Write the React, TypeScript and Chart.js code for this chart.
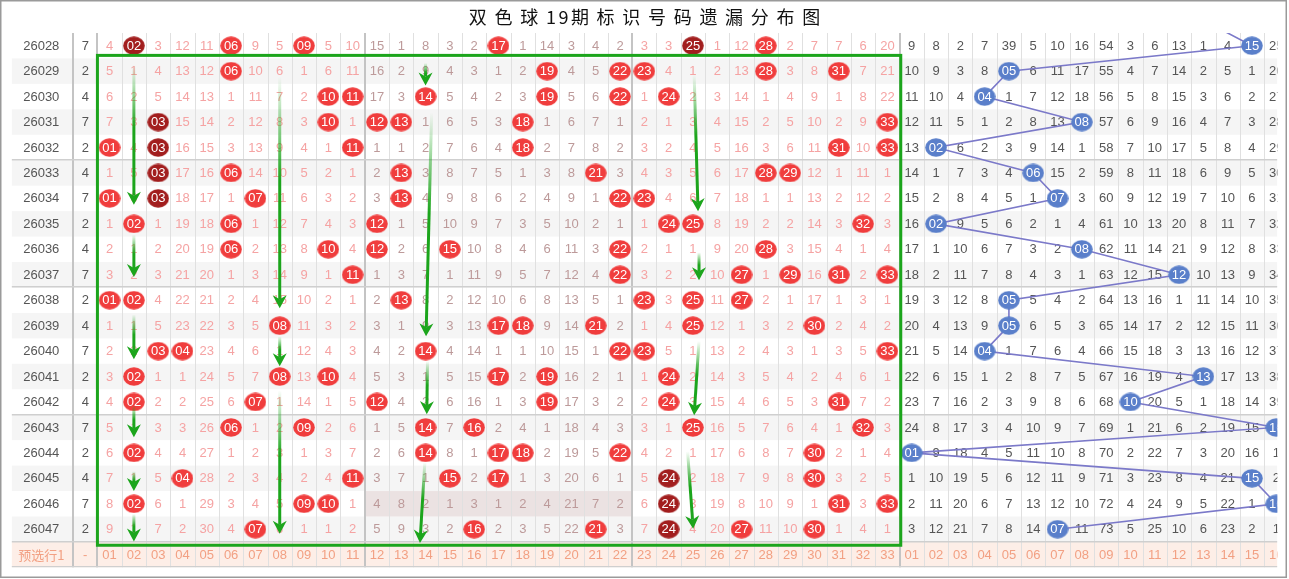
import React, { useEffect, useRef } from 'react';
import { Chart, registerables } from 'chart.js';

Chart.register(...registerables);

// ---------------- data ----------------
const titleText = '双色球19期标识号码遗漏分布图';

const periods = [
  '26028', '26029', '26030', '26031', '26032', '26033', '26034', '26035', '26036', '26037',
  '26038', '26039', '26040', '26041', '26042', '26043', '26044', '26045', '26046', '26047',
];

const tailDigits = [7, 2, 4, 7, 2, 4, 7, 2, 4, 7, 2, 4, 7, 2, 4, 7, 2, 4, 7, 2];

const previewRowLabel = '预选行1';
const previewTailLabel = '-';

const redLabels = [
  '01', '02', '03', '04', '05', '06', '07', '08', '09', '10', '11',
  '12', '13', '14', '15', '16', '17', '18', '19', '20', '21', '22',
  '23', '24', '25', '26', '27', '28', '29', '30', '31', '32', '33',
];

const blueLabels = [
  '01', '02', '03', '04', '05', '06', '07', '08',
  '09', '10', '11', '12', '13', '14', '15', '16',
];

// omission values for red balls 01-33 (0 = drawn this period)
const redMiss: number[][] = [
  [4, 0, 3, 12, 11, 0, 9, 5, 0, 5, 10, 15, 1, 8, 3, 2, 0, 1, 14, 3, 4, 2, 3, 3, 0, 1, 12, 0, 2, 7, 7, 6, 20],
  [5, 1, 4, 13, 12, 0, 10, 6, 1, 6, 11, 16, 2, 9, 4, 3, 1, 2, 0, 4, 5, 0, 0, 4, 1, 2, 13, 0, 3, 8, 0, 7, 21],
  [6, 2, 5, 14, 13, 1, 11, 7, 2, 0, 0, 17, 3, 0, 5, 4, 2, 3, 0, 5, 6, 0, 1, 0, 2, 3, 14, 1, 4, 9, 1, 8, 22],
  [7, 3, 0, 15, 14, 2, 12, 8, 3, 0, 1, 0, 0, 1, 6, 5, 3, 0, 1, 6, 7, 1, 2, 1, 3, 4, 15, 2, 5, 10, 2, 9, 0],
  [0, 4, 0, 16, 15, 3, 13, 9, 4, 1, 0, 1, 1, 2, 7, 6, 4, 0, 2, 7, 8, 2, 3, 2, 4, 5, 16, 3, 6, 11, 0, 10, 0],
  [1, 5, 0, 17, 16, 0, 14, 10, 5, 2, 1, 2, 0, 3, 8, 7, 5, 1, 3, 8, 0, 3, 4, 3, 5, 6, 17, 0, 0, 12, 1, 11, 1],
  [0, 6, 0, 18, 17, 1, 0, 11, 6, 3, 2, 3, 0, 4, 9, 8, 6, 2, 4, 9, 1, 0, 0, 4, 6, 7, 18, 1, 1, 13, 2, 12, 2],
  [1, 0, 1, 19, 18, 0, 1, 12, 7, 4, 3, 0, 1, 5, 10, 9, 7, 3, 5, 10, 2, 1, 1, 0, 0, 8, 19, 2, 2, 14, 3, 0, 3],
  [2, 1, 2, 20, 19, 0, 2, 13, 8, 0, 4, 0, 2, 6, 0, 10, 8, 4, 6, 11, 3, 0, 2, 1, 1, 9, 20, 0, 3, 15, 4, 1, 4],
  [3, 2, 3, 21, 20, 1, 3, 14, 9, 1, 0, 1, 3, 7, 1, 11, 9, 5, 7, 12, 4, 0, 3, 2, 2, 10, 0, 1, 0, 16, 0, 2, 0],
  [0, 0, 4, 22, 21, 2, 4, 15, 10, 2, 1, 2, 0, 8, 2, 12, 10, 6, 8, 13, 5, 1, 0, 3, 0, 11, 0, 2, 1, 17, 1, 3, 1],
  [1, 1, 5, 23, 22, 3, 5, 0, 11, 3, 2, 3, 1, 9, 3, 13, 0, 0, 9, 14, 0, 2, 1, 4, 0, 12, 1, 3, 2, 0, 2, 4, 2],
  [2, 2, 0, 0, 23, 4, 6, 1, 12, 4, 3, 4, 2, 0, 4, 14, 1, 1, 10, 15, 1, 0, 0, 5, 1, 13, 2, 4, 3, 1, 3, 5, 0],
  [3, 0, 1, 1, 24, 5, 7, 0, 13, 0, 4, 5, 3, 1, 5, 15, 0, 2, 0, 16, 2, 1, 1, 0, 2, 14, 3, 5, 4, 2, 4, 6, 1],
  [4, 0, 2, 2, 25, 6, 0, 1, 14, 1, 5, 0, 4, 2, 6, 16, 1, 3, 0, 17, 3, 2, 2, 0, 3, 15, 4, 6, 5, 3, 0, 7, 2],
  [5, 1, 3, 3, 26, 0, 1, 2, 0, 2, 6, 1, 5, 0, 7, 0, 2, 4, 1, 18, 4, 3, 3, 1, 0, 16, 5, 7, 6, 4, 1, 0, 3],
  [6, 0, 4, 4, 27, 1, 2, 3, 1, 3, 7, 2, 6, 0, 8, 1, 0, 0, 2, 19, 5, 0, 4, 2, 1, 17, 6, 8, 7, 0, 2, 1, 4],
  [7, 1, 5, 0, 28, 2, 3, 4, 2, 4, 0, 3, 7, 1, 0, 2, 0, 1, 3, 20, 6, 1, 5, 0, 2, 18, 7, 9, 8, 0, 3, 2, 5],
  [8, 0, 6, 1, 29, 3, 4, 5, 0, 0, 1, 4, 8, 2, 1, 3, 1, 2, 4, 21, 7, 2, 6, 0, 3, 19, 8, 10, 9, 1, 0, 3, 0],
  [9, 1, 7, 2, 30, 4, 0, 6, 1, 1, 2, 5, 9, 3, 2, 0, 2, 3, 5, 22, 0, 3, 7, 0, 4, 20, 0, 11, 10, 0, 1, 4, 1],
];

// omission values for blue balls 01-16 (0 = drawn this period)
const blueMiss: number[][] = [
  [9, 8, 2, 7, 39, 5, 10, 16, 54, 3, 6, 13, 1, 4, 0, 25],
  [10, 9, 3, 8, 0, 6, 11, 17, 55, 4, 7, 14, 2, 5, 1, 26],
  [11, 10, 4, 0, 1, 7, 12, 18, 56, 5, 8, 15, 3, 6, 2, 27],
  [12, 11, 5, 1, 2, 8, 13, 0, 57, 6, 9, 16, 4, 7, 3, 28],
  [13, 0, 6, 2, 3, 9, 14, 1, 58, 7, 10, 17, 5, 8, 4, 29],
  [14, 1, 7, 3, 4, 0, 15, 2, 59, 8, 11, 18, 6, 9, 5, 30],
  [15, 2, 8, 4, 5, 1, 0, 3, 60, 9, 12, 19, 7, 10, 6, 31],
  [16, 0, 9, 5, 6, 2, 1, 4, 61, 10, 13, 20, 8, 11, 7, 32],
  [17, 1, 10, 6, 7, 3, 2, 0, 62, 11, 14, 21, 9, 12, 8, 33],
  [18, 2, 11, 7, 8, 4, 3, 1, 63, 12, 15, 0, 10, 13, 9, 34],
  [19, 3, 12, 8, 0, 5, 4, 2, 64, 13, 16, 1, 11, 14, 10, 35],
  [20, 4, 13, 9, 0, 6, 5, 3, 65, 14, 17, 2, 12, 15, 11, 36],
  [21, 5, 14, 0, 1, 7, 6, 4, 66, 15, 18, 3, 13, 16, 12, 37],
  [22, 6, 15, 1, 2, 8, 7, 5, 67, 16, 19, 4, 0, 17, 13, 38],
  [23, 7, 16, 2, 3, 9, 8, 6, 68, 0, 20, 5, 1, 18, 14, 39],
  [24, 8, 17, 3, 4, 10, 9, 7, 69, 1, 21, 6, 2, 19, 15, 0],
  [0, 9, 18, 4, 5, 11, 10, 8, 70, 2, 22, 7, 3, 20, 16, 1],
  [1, 10, 19, 5, 6, 12, 11, 9, 71, 3, 23, 8, 4, 21, 0, 2],
  [2, 11, 20, 6, 7, 13, 12, 10, 72, 4, 24, 9, 5, 22, 1, 0],
  [3, 12, 21, 7, 8, 14, 0, 11, 73, 5, 25, 10, 6, 23, 2, 1],
];

// [row index, red ball] drawn in dark red (repeat marks)
const darkRedHits: number[][] = [
  [0, 2], [0, 25], [3, 3], [4, 3], [5, 3], [6, 3], [17, 24], [18, 24], [19, 24],
];

// blue ball of the period before 26028 (line enters from above)
const blueBeforeFirst = 13;

// shaded cells: [row, first red ball, last red ball]
const shadedCells = [18, 12, 22];

// green frame: [left col, top row, right col, bottom row]
const greenBox = [0.5, 0.38, 33.55, 19.63];

// green marker arrows: [col from, row from, col to, row to]
const greenArrows: number[][] = [
  [2, 0.75, 2, 6.25],
  [2, 7.42, 2, 9.09],
  [8, 1.21, 8, 10.32],
  [2, 10.56, 2, 12.32],
  [8, 11.42, 8, 12.6],
  [2, 14.13, 2, 15.39],
  [2, 16.72, 2, 17.5],
  [2, 18.4, 2, 19.48],
  [8, 13.55, 8, 19.18],
  [14, 0.68, 14, 1.56],
  [14.25, 2.62, 14.02, 11.42],
  [14.08, 12.39, 14.05, 14.48],
  [13.97, 16.36, 13.77, 19.54],
  [25.05, 1.13, 25.21, 6.5],
  [25.25, 8.12, 25.25, 9.22],
  [25.25, 11.61, 25.05, 14.52],
  [24.78, 15.94, 25.01, 18.98],
];

// ---------------- layout / style ----------------
const W = 1289;
const H = 579;
const COL_W = 24.56;
const TABLE_LEFT = 3;
const TABLE_RIGHT = 1282;
const TABLE_TOP = 33;
const TABLE_BOTTOM = 574;
const X_MIN = 1 - (102 - TABLE_LEFT) / COL_W;
const X_MAX = 1 + (TABLE_RIGHT - 102) / COL_W;
const PERIOD_X = -1.81;
const TAIL_X = 0;
const BLUE_OFFSET = 33;

const FONT = '13px "Liberation Sans", Arial, sans-serif';
const CJK_FONT = '13px "Noto Sans CJK SC", sans-serif';
const C_GREEN = 'rgb(28,165,28)';

function ballImage(color: string) {
  const c = document.createElement('canvas');
  c.width = 22;
  c.height = 19;
  const g = c.getContext('2d')!;
  g.fillStyle = color;
  g.beginPath();
  g.ellipse(11, 9.5, 10.8, 9.3, 0, 0, Math.PI * 2);
  g.fill();
  return c;
}

const tablePlugin = {
  id: 'omissionTable',
  beforeDatasetsDraw(chart: any) {
    const { ctx, chartArea: a } = chart;
    const xs = chart.scales.x;
    const ys = chart.scales.y;
    const px = (v: number) => xs.getPixelForValue(v);
    const py = (v: number) => ys.getPixelForValue(v);
    const nCols = BLUE_OFFSET + blueLabels.length;
    ctx.save();
    ctx.beginPath();
    ctx.rect(a.left, a.top, a.right - a.left, a.bottom - a.top);
    ctx.clip();

    // row stripes
    for (let r = 0; r < periods.length; r++) {
      if (r % 2 === 1) {
        ctx.fillStyle = '#f5f5f5';
        ctx.fillRect(a.left, py(r - 0.5), a.right - a.left, py(r + 0.5) - py(r - 0.5));
      }
    }
    // shaded cells
    const [sr, sc0, sc1] = shadedCells;
    ctx.fillStyle = '#ebe2e2';
    ctx.fillRect(px(sc0 - 0.5), py(sr - 0.5), px(sc1 + 0.5) - px(sc0 - 0.5), py(sr + 0.5) - py(sr - 0.5));
    // preview row
    const pr = periods.length;
    ctx.fillStyle = '#fdeee7';
    ctx.fillRect(a.left, py(pr - 0.5), a.right - a.left, py(pr + 0.5) - py(pr - 0.5));

    // vertical lines
    const thick = [-0.5, 0.5, 11.5, 22.5, 33.5];
    ctx.strokeStyle = '#e0e0e0';
    ctx.lineWidth = 1;
    for (let b = 1.5; b < nCols + 0.5; b += 1) {
      if (thick.includes(b)) continue;
      const x = Math.round(px(b)) + 0.5;
      ctx.beginPath();
      ctx.moveTo(x, a.top);
      ctx.lineTo(x, a.bottom);
      ctx.stroke();
    }
    ctx.strokeStyle = '#c4c4c4';
    ctx.lineWidth = 2;
    thick.forEach((b) => {
      const x = Math.round(px(b));
      ctx.beginPath();
      ctx.moveTo(x, a.top);
      ctx.lineTo(x, a.bottom);
      ctx.stroke();
    });
    // horizontal separators
    ctx.strokeStyle = '#cfcfcf';
    ctx.lineWidth = 1.5;
    [4.5, 9.5, 14.5, 19.5, 20.5].forEach((b) => {
      const y = Math.round(py(b)) - 0.25;
      ctx.beginPath();
      ctx.moveTo(a.left, y);
      ctx.lineTo(a.right, y);
      ctx.stroke();
    });

    // texts
    ctx.textAlign = 'center';
    ctx.textBaseline = 'middle';
    ctx.font = FONT;
    for (let r = 0; r < periods.length; r++) {
      const y = py(r) + 0.5;
      ctx.fillStyle = '#555';
      ctx.fillText(periods[r], px(PERIOD_X), y);
      ctx.fillText(String(tailDigits[r]), px(TAIL_X), y);
      redMiss[r].forEach((v, c) => {
        if (v === 0) return;
        const ball = c + 1;
        ctx.fillStyle = ball >= 12 && ball <= 22 ? '#bd9a9a' : '#f5a3a3';
        ctx.fillText(String(v), px(ball), y);
      });
      ctx.fillStyle = '#555';
      blueMiss[r].forEach((v, c) => {
        if (v === 0) return;
        ctx.fillText(String(v), px(BLUE_OFFSET + 1 + c), y);
      });
    }
    const yb = py(pr) + 0.5;
    ctx.fillStyle = '#f2a083';
    ctx.font = CJK_FONT;
    ctx.fillText(previewRowLabel, px(PERIOD_X), yb);
    ctx.font = FONT;
    ctx.fillText(previewTailLabel, px(TAIL_X), yb);
    redLabels.forEach((l, c) => ctx.fillText(l, px(c + 1), yb));
    blueLabels.forEach((l, c) => ctx.fillText(l, px(BLUE_OFFSET + 1 + c), yb));
    ctx.restore();
  },
  afterDatasetsDraw(chart: any) {
    const { ctx, chartArea: a } = chart;
    const xs = chart.scales.x;
    const ys = chart.scales.y;
    const px = (v: number) => xs.getPixelForValue(v);
    const py = (v: number) => ys.getPixelForValue(v);
    ctx.save();
    ctx.beginPath();
    ctx.rect(a.left, a.top, a.right - a.left, a.bottom - a.top);
    ctx.clip();
    // ball labels
    ctx.textAlign = 'center';
    ctx.textBaseline = 'middle';
    ctx.font = FONT;
    ctx.fillStyle = '#ffffff';
    chart.data.datasets.forEach((ds: any, d: number) => {
      const meta = chart.getDatasetMeta(d);
      ds.data.forEach((pt: any, i: number) => {
        const el = meta.data[i];
        if (!el || !pt.label) return;
        ctx.fillText(pt.label, el.x, el.y + 0.5);
      });
    });
    ctx.restore();

    // green frame
    ctx.save();
    ctx.strokeStyle = C_GREEN;
    ctx.lineWidth = 3;
    const [bx0, by0, bx1, by1] = greenBox;
    ctx.strokeRect(px(bx0), py(by0), px(bx1) - px(bx0), py(by1) - py(by0));

    // arrows
    greenArrows.forEach(([c0, r0, c1, r1]) => {
      const x0 = px(c0), y0 = py(r0), x1 = px(c1), y1 = py(r1);
      const ang = Math.atan2(y1 - y0, x1 - x0);
      const headLen = 13;
      const headW = 7;
      const g = ctx.createLinearGradient(x0, y0, x1, y1);
      g.addColorStop(0, 'rgba(28,165,28,0)');
      g.addColorStop(0.45, 'rgba(28,165,28,1)');
      g.addColorStop(1, 'rgba(28,165,28,1)');
      ctx.strokeStyle = g;
      ctx.lineWidth = 3;
      ctx.beginPath();
      ctx.moveTo(x0, y0);
      ctx.lineTo(x1 - Math.cos(ang) * (headLen - 4), y1 - Math.sin(ang) * (headLen - 4));
      ctx.stroke();
      ctx.save();
      ctx.translate(x1, y1);
      ctx.rotate(ang);
      ctx.fillStyle = C_GREEN;
      ctx.beginPath();
      ctx.moveTo(0, 0);
      ctx.lineTo(-headLen, -headW);
      ctx.lineTo(-headLen + 4, 0);
      ctx.lineTo(-headLen, headW);
      ctx.closePath();
      ctx.fill();
      ctx.restore();
    });
    ctx.restore();
  },
  afterDraw(chart: any) {
    const { ctx } = chart;
    ctx.save();
    // title, laid out char by char
    ctx.font = '18px "Noto Sans CJK SC", sans-serif';
    ctx.fillStyle = '#111';
    ctx.textBaseline = 'middle';
    ctx.textAlign = 'left';
    const chars = Array.from(titleText);
    const adv = chars.map((ch) => (/[0-9]/.test(ch) ? 12.5 : 25.7));
    const widths = chars.map((ch) => ctx.measureText(ch).width);
    const total = adv.slice(0, -1).reduce((s, v) => s + v, 0) + widths[widths.length - 1];
    let x = chart.width / 2 - total / 2;
    chars.forEach((ch, i) => {
      ctx.fillText(ch, x, 17);
      x += adv[i];
    });
    // outer frame
    ctx.strokeStyle = '#9a9a9a';
    ctx.lineWidth = 1.5;
    ctx.strokeRect(0.75, 0.75, 1285.5, 576.5);
    ctx.restore();
  },
};

export default function App() {
  const ref = useRef<HTMLCanvasElement>(null);
  useEffect(() => {
    if (!ref.current) return;
    const redPts: any[] = [];
    const darkPts: any[] = [];
    redMiss.forEach((row, r) => {
      row.forEach((v, c) => {
        if (v !== 0) return;
        const ball = c + 1;
        const isDark = darkRedHits.some(([dr, db]) => dr === r && db === ball);
        (isDark ? darkPts : redPts).push({ x: ball, y: r, label: redLabels[c] });
      });
    });
    const bluePts: any[] = [{ x: BLUE_OFFSET + blueBeforeFirst, y: -1, label: '' }];
    blueMiss.forEach((row, r) => {
      const c = row.indexOf(0);
      bluePts.push({ x: BLUE_OFFSET + 1 + c, y: r, label: blueLabels[c] });
    });

    const chart = new Chart(ref.current, {
      type: 'scatter',
      data: {
        datasets: [
          {
            label: '蓝球',
            data: bluePts,
            showLine: true,
            borderColor: '#7b79c9',
            borderWidth: 1.6,
            backgroundColor: '#5a7fca',
            pointStyle: ballImage('#5a7fca') as any,
            pointRadius: 10,
          },
          {
            label: '红球',
            data: redPts,
            backgroundColor: '#f03d3d',
            pointStyle: ballImage('#f03d3d') as any,
            pointRadius: 10,
          },
          {
            label: '重号',
            data: darkPts,
            backgroundColor: '#a21e1e',
            pointStyle: ballImage('#a21e1e') as any,
            pointRadius: 10,
          },
        ],
      },
      options: {
        responsive: false,
        animation: false,
        events: [],
        layout: {
          padding: {
            left: TABLE_LEFT,
            right: W - TABLE_RIGHT,
            top: TABLE_TOP,
            bottom: H - TABLE_BOTTOM,
          },
        },
        plugins: {
          legend: { display: false },
          tooltip: { enabled: false },
          title: { display: false },
        },
        scales: {
          x: { type: 'linear', display: false, min: X_MIN, max: X_MAX },
          y: { type: 'linear', display: false, reverse: true, min: -0.5, max: periods.length + 0.5 },
        },
      },
      plugins: [tablePlugin],
    } as any);
    return () => chart.destroy();
  }, []);

  return (
    <div style={{ position: 'fixed', left: 0, top: 0, width: W, height: H, background: '#ffffff' }}>
      <canvas ref={ref} width={W} height={H} style={{ display: 'block' }} />
    </div>
  );
}
